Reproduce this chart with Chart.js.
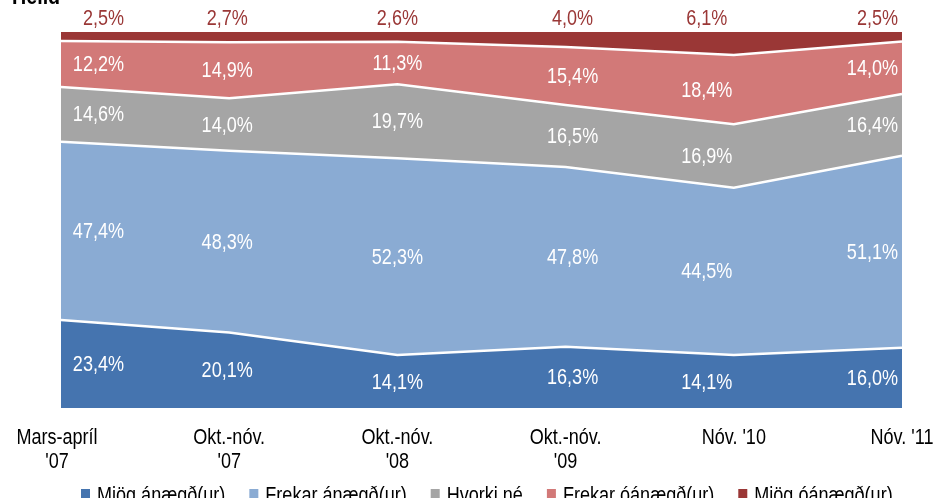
<!DOCTYPE html>
<html><head><meta charset="utf-8">
<script src="https://cdn.jsdelivr.net/npm/chart.js@4/dist/chart.umd.min.js"></script>
<style>html,body{margin:0;padding:0;background:#fff;overflow:hidden}#wrap{width:936px;height:498px;position:relative}</style>
</head><body>
<div id="wrap"><canvas id="c" width="936" height="498"></canvas></div>
<script>
// ---- data ----
const categories = [["Mars-apríl", "'07"], ["Okt.-nóv.", "'07"], ["Okt.-nóv.", "'08"], ["Okt.-nóv.", "'09"], ["Nóv. '10"], ["Nóv. '11"]];
const seriesNames = ["Mjög ánægð(ur)", "Frekar ánægð(ur)", "Hvorki né", "Frekar óánægð(ur)", "Mjög óánægð(ur)"];
const mjogAnaegd = [23.4, 20.1, 14.1, 16.3, 14.1, 16.0];
const frekarAnaegd = [47.4, 48.3, 52.3, 47.8, 44.5, 51.1];
const hvorkiNe = [14.6, 14.0, 19.7, 16.5, 16.9, 16.4];
const frekarOanaegd = [12.2, 14.9, 11.3, 15.4, 18.4, 14.0];
const mjogOanaegd = [2.5, 2.7, 2.6, 4.0, 6.1, 2.5];
const titleText = "Heild";

// ---- styles ----
const colors = ["#4574AF", "#8AABD3", "#A5A5A5", "#D27978", "#9A3736"];
const FONT = "'Liberation Sans',Arial,sans-serif";
const NARROW = 0.82;
const seriesValues = [mjogAnaegd, frekarAnaegd, hvorkiNe, frekarOanaegd, mjogOanaegd];

function fmt(v) { return v.toFixed(1).replace('.', ',') + '%'; }
function narrowText(ctx, text, x, y) {
  ctx.save();
  ctx.translate(x, y);
  ctx.scale(NARROW, 1);
  ctx.fillText(text, 0, 0);
  ctx.restore();
}

const overlay = {
  id: 'overlay',
  afterDraw(chart) {
    const ctx = chart.ctx;
    const xs = chart.scales.x, ys = chart.scales.y;
    const n = categories.length;
    ctx.save();
    // data labels
    ctx.font = '22px ' + FONT;
    ctx.textBaseline = 'middle';
    for (let i = 0; i < seriesValues.length; i++) {
      for (let j = 0; j < n; j++) {
        let below = 0;
        for (let k = 0; k < i; k++) below += seriesValues[k][j];
        const top = below + seriesValues[i][j];
        let y = (ys.getPixelForValue(below) + ys.getPixelForValue(Math.min(top, 100))) / 2 + 1;
        let px = xs.getPixelForValue(j);
        ctx.fillStyle = '#ffffff';
        if (i === seriesValues.length - 1) { y = 19; ctx.fillStyle = '#9A3736'; }
        if (j === 0) { ctx.textAlign = 'right'; px = px + 63; }
        else if (j === n - 1) { ctx.textAlign = 'right'; px = px - 4; }
        else {
          ctx.textAlign = 'center';
          if (j === 3) px += 7;
          if (j === 4) px -= 27;
          if (j === 1) px -= 2;
        }
        narrowText(ctx, fmt(seriesValues[i][j]), px, y);
      }
    }
    // x tick labels
    ctx.fillStyle = '#000';
    ctx.textAlign = 'center';
    ctx.textBaseline = 'alphabetic';
    ctx.font = '22px ' + FONT;
    for (let j = 0; j < n; j++) {
      let px = xs.getPixelForValue(j);
      if (j === 0) px -= 4;
      categories[j].forEach((line, li) => narrowText(ctx, line, px, 444 + li * 24));
    }
    // legend
    ctx.textAlign = 'left';
    let lx = 81;
    for (let i = 0; i < seriesNames.length; i++) {
      ctx.fillStyle = colors[i];
      ctx.fillRect(lx, 489, 9, 9);
      ctx.fillStyle = '#000';
      narrowText(ctx, seriesNames[i], lx + 16, 502);
      lx += 16 + ctx.measureText(seriesNames[i]).width * NARROW + 24;
    }
    // title (cut off at top)
    ctx.font = 'bold 24px ' + FONT;
    narrowText(ctx, titleText, 12, 4);
    ctx.restore();
  }
};

new Chart(document.getElementById('c'), {
  type: 'line',
  data: {
    labels: categories,
    datasets: seriesValues.map((vals, i) => ({
      label: seriesNames[i],
      data: vals,
      backgroundColor: colors[i],
      borderColor: i === seriesValues.length - 1 ? colors[i] : '#ffffff',
      borderWidth: i === seriesValues.length - 1 ? 0 : 2.5,
      fill: i === 0 ? 'origin' : '-1',
      pointRadius: 0,
      tension: 0
    }))
  },
  options: {
    responsive: false,
    animation: false,
    layout: { padding: { left: 61, right: 34, top: 32, bottom: 90 } },
    plugins: { legend: { display: false }, tooltip: { enabled: false }, title: { display: false } },
    scales: {
      x: { display: false, offset: false },
      y: { display: false, stacked: true, min: 0, max: 100 }
    }
  },
  plugins: [overlay]
});
</script>
</body></html>
